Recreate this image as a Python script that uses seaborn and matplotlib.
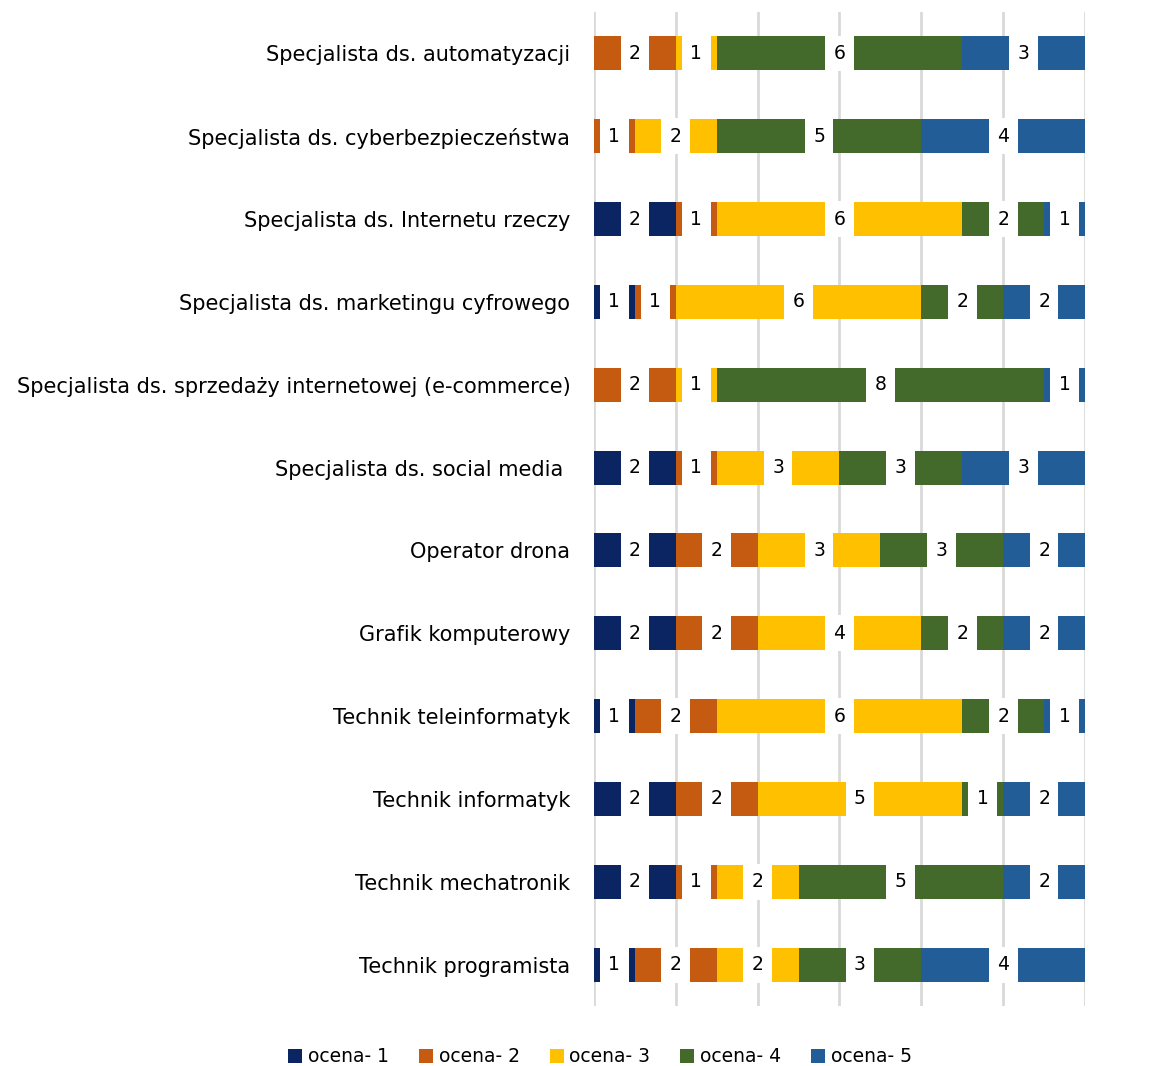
import matplotlib
matplotlib.use('Agg')
import matplotlib.pyplot as plt
from matplotlib.patches import Patch
import seaborn as sns
import pandas as pd
import numpy as np

# Data
categories = [
    'Specjalista ds. automatyzacji',
    'Specjalista ds. cyberbezpieczeństwa',
    'Specjalista ds. Internetu rzeczy',
    'Specjalista ds. marketingu cyfrowego',
    'Specjalista ds. sprzedaży internetowej (e-commerce)',
    'Specjalista ds. social media ',
    'Operator drona',
    'Grafik komputerowy',
    'Technik teleinformatyk',
    'Technik informatyk',
    'Technik mechatronik',
    'Technik programista',
]
series_names = ['ocena- 1', 'ocena- 2', 'ocena- 3', 'ocena- 4', 'ocena- 5']
ocena_1 = [0, 0, 2, 1, 0, 2, 2, 2, 1, 2, 2, 1]
ocena_2 = [2, 1, 1, 1, 2, 1, 2, 2, 2, 2, 1, 2]
ocena_3 = [1, 2, 6, 6, 1, 3, 3, 4, 6, 5, 2, 2]
ocena_4 = [6, 5, 2, 2, 8, 3, 3, 2, 2, 1, 5, 3]
ocena_5 = [3, 4, 1, 2, 1, 3, 2, 2, 1, 2, 2, 4]
colors = ['#0B2462', '#C55A11', '#FFC000', '#43692B', '#235D98']

df = pd.DataFrame({'Kategoria': categories})
for name, vals in zip(series_names, [ocena_1, ocena_2, ocena_3, ocena_4, ocena_5]):
    df[name] = vals
cum = df[series_names].cumsum(axis=1)

sns.set_theme(style='white')
plt.rcParams['font.family'] = ['DejaVu Sans']

fig, ax = plt.subplots(figsize=(11.54, 10.66), dpi=100)
fig.subplots_adjust(left=0.5147, right=0.9402, top=0.9887, bottom=0.0563)

# stacked bars: draw cumulative totals from the largest down
for name, color in reversed(list(zip(series_names, colors))):
    sns.barplot(x=cum[name], y=df['Kategoria'], orient='h', color=color,
                width=0.41, ax=ax, zorder=2, linewidth=0, saturation=1)

# data labels in white boxes
for i in range(len(categories)):
    for name in series_names:
        v = df.loc[i, name]
        if v == 0:
            continue
        xc = cum.loc[i, name] - v / 2
        ax.text(xc, i, str(v), ha='center', va='center', fontsize=13.5,
                color='#000000', zorder=4,
                bbox=dict(boxstyle='square,pad=0.45', fc='white', ec='none'))

ax.set_xlim(0, 12)
ax.set_ylim(11.5, -0.5)
ax.set_xticks(np.arange(0, 13, 2))
ax.set_xticklabels([])
ax.xaxis.grid(True, color='#D9D9D9', linewidth=2, zorder=0)
ax.set_axisbelow(True)
for s in ax.spines.values():
    s.set_visible(False)
ax.set_xlabel('')
ax.set_ylabel('')
ax.tick_params(axis='y', length=0, pad=17, labelsize=15, labelcolor='#000000')
ax.tick_params(axis='x', length=0)

handles = [Patch(facecolor=c, edgecolor='none', label=n) for n, c in zip(series_names, colors)]
leg = fig.legend(handles=handles, loc='center', bbox_to_anchor=(0.52, 0.0085), ncol=5,
                 frameon=False, fontsize=13.5, handlelength=0.75, handleheight=0.75,
                 handletextpad=0.3, columnspacing=1.6)
for t in leg.get_texts():
    t.set_color('#000000')

fig.savefig('out.png', dpi=100)
